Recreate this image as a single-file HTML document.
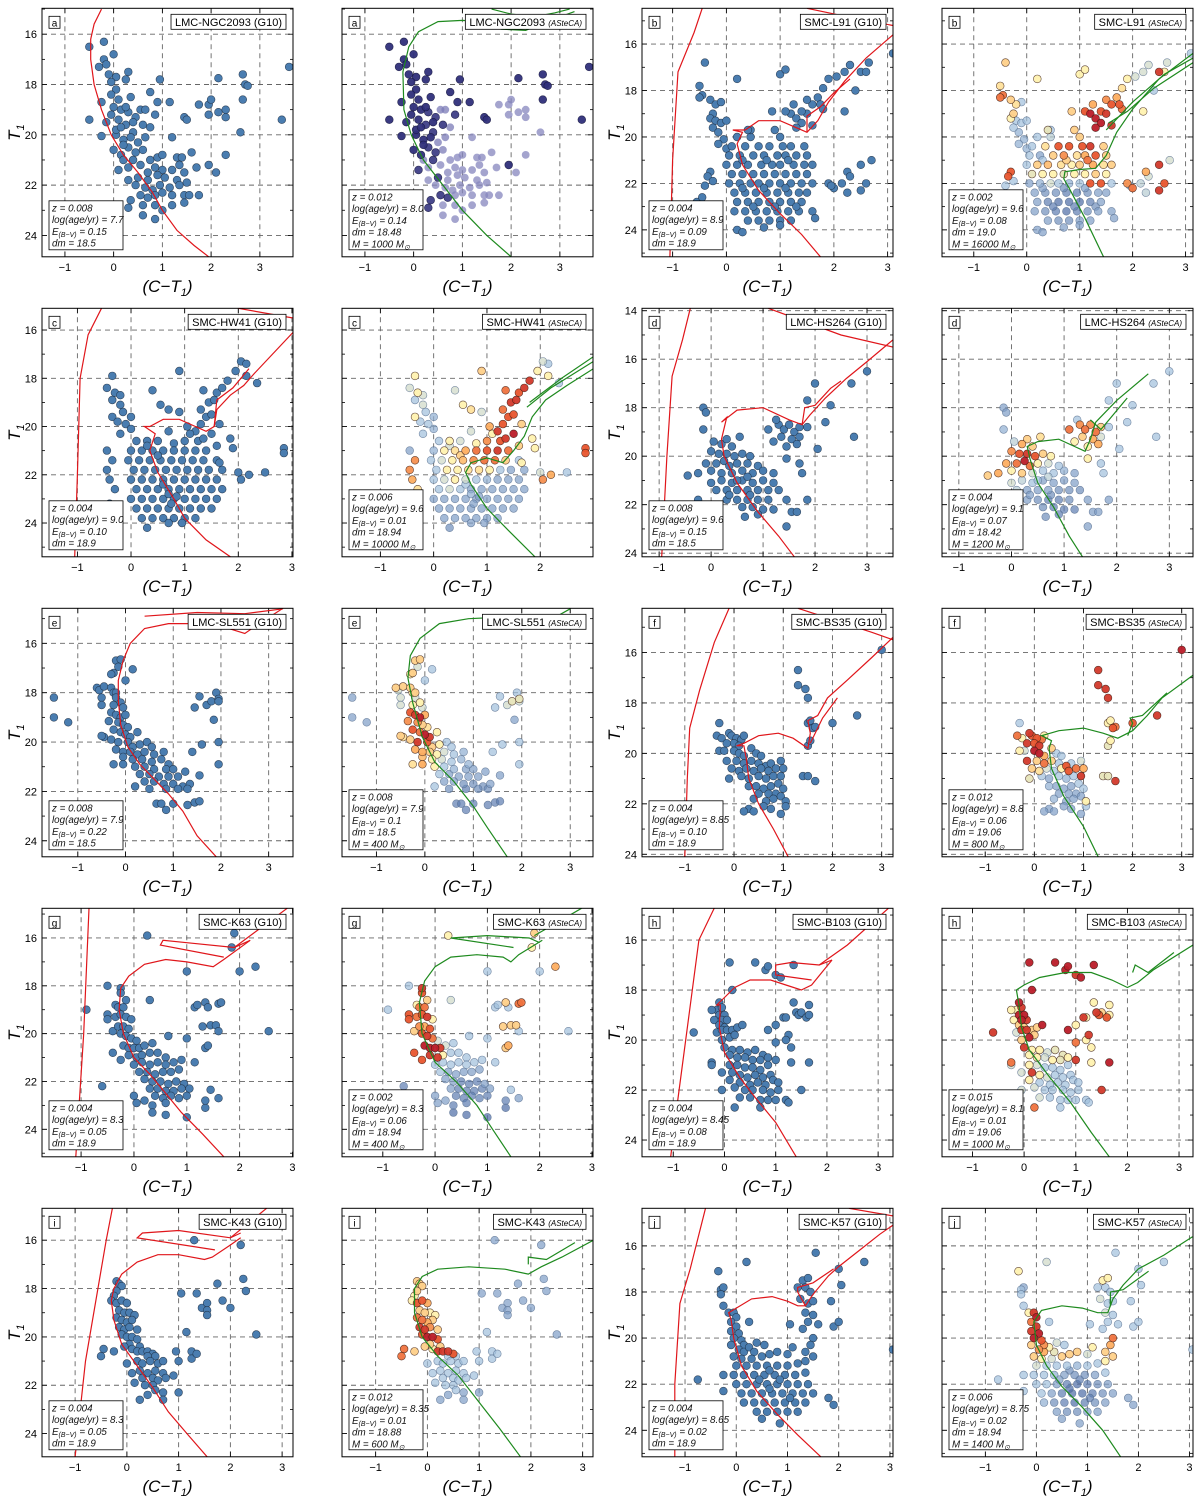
<!DOCTYPE html>
<html><head><meta charset="utf-8">
<style>
html,body{margin:0;padding:0;background:#fff;}
svg{display:block;}
text{font-family:"Liberation Sans",sans-serif;}
</style></head>
<body>
<svg id="fig" width="1200" height="1499" viewBox="0 0 1200 1499" xmlns="http://www.w3.org/2000/svg"></svg>
<script>
// ---------- data: stars [colour C-T1, magnitude T1, membership probability] ----------
const starsNGC2093=[[-0.5,16.5,.9],[-0.2,16.3,.9],[0,16.8,.9],[-0.2,17,.9],[-0.15,17.2,.9],[-0.3,17.3,.9],[-0.1,17.6,.9],[0.05,17.7,.9],[-0.05,17.9,.9],[0.3,17.5,.9],[0.25,17.8,.9],[0.95,17.8,.9],[0.75,18.3,.9],[0.05,18.2,.9],[-0.05,18.4,.9],[0.1,18.6,.9],[0.35,18.5,.9],[-0.25,18.7,.9],[0,18.9,.9],[0.15,19,.9],[0.3,19.1,.8],[0.55,19,.4],[0.65,19,.4],[0.85,19.2,.8],[0.9,18.7,.9],[1.15,18.7,.9],[-0.5,19.4,.9],[-0.15,19.5,.9],[0.1,19.4,.9],[0.25,19.6,.8],[0.45,19.3,.8],[0.6,19.6,.8],[0.75,19.7,.4],[1.45,19.3,.9],[1.5,19.4,.9],[1.75,18.8,.3],[1.95,18.8,.3],[2.0,18.6,.3],[1.95,19.2,.3],[2.15,19.1,.3],[2.3,19.0,.3],[2.3,19.3,.3],[2.15,17.75,.9],[2.65,17.6,.9],[2.7,18.0,.9],[2.75,18.05,.9],[2.65,18.6,.9],[2.6,19.9,.3],[3.45,19.4,.9],[3.6,17.3,.9],[-0.25,20.05,.9],[0.05,20.0,.9],[0.2,20.2,.9],[0.4,19.9,.8],[0.5,20.3,.4],[0.65,20.1,.4],[1.2,20.1,.3],[0,20.6,.9],[0.15,20.8,.9],[0.3,20.5,.8],[0.45,20.7,.8],[0.6,20.6,.4],[0.4,21.0,.8],[0.2,21.0,.4],[0.75,21.0,.3],[0.9,20.9,.3],[1.0,20.8,.3],[1.3,20.9,.3],[1.4,20.9,.3],[1.6,20.7,.3],[0.1,21.4,.8],[0.3,21.3,.3],[0.55,21.2,.3],[0.7,21.5,.3],[0.85,21.3,.3],[1.0,21.4,.3],[1.2,21.4,.3],[1.35,21.2,.3],[1.45,21.5,.3],[1.7,21.3,.3],[1.95,21.2,.9],[2.1,21.5,.3],[2.3,20.8,.3],[0.3,21.8,.3],[0.5,21.7,.8],[0.7,21.8,.3],[0.9,21.6,.3],[1.05,21.7,.3],[1.3,21.8,.3],[1.5,21.9,.3],[0.45,22.0,.3],[0.65,22.1,.3],[0.8,22.2,.3],[0.95,22.0,.3],[1.15,22.1,.3],[1.35,22.0,.3],[0.55,22.4,.8],[0.7,22.5,.8],[0.85,22.4,.3],[1.0,22.3,.3],[1.2,22.4,.3],[1.45,22.4,.3],[1.55,22.4,.3],[1.75,22.4,.3],[0.35,22.6,.8],[0.6,22.8,.3],[0.85,22.8,.3],[1.2,22.8,.3],[1.45,22.7,.3],[0.6,23.2,.3],[0.85,23.35,.3],[1.0,23.0,.3],[0.3,22.9,.8],[0.2,20.4,.9],[0.35,20.1,.9],[-0.05,19.2,.9],[0.05,19.8,.9],[0.15,19.7,.9],[0.25,18.9,.9],[0.4,19.5,.9]];
const starsL91=[[-0.4,16.8,.6],[-0.5,17.8,.55],[-0.45,18.2,.8],[-0.5,18.3,.8],[-0.3,18.4,.6],[-0.2,18.6,.55],[-0.1,18.5,.3],[-0.25,19.0,.6],[-0.3,19.2,.5],[-0.2,19.3,.3],[-0.1,19.4,.3],[-0.25,19.6,.3],[-0.15,19.8,.25],[0.0,19.3,.3],[-0.05,20.1,.25],[-0.15,20.3,.25],[0,20.5,.25],[-0.3,21.5,.85],[-0.35,21.7,.85],[-0.4,22.1,.3],[-0.55,22.8,.2],[-0.45,22.6,.2],[-0.25,21.9,.3],
[0.1,20.4,.3],[0.35,20.4,.55],[0.6,20.4,.85],[0.8,20.4,.85],[1.05,20.4,.85],[1.2,20.4,.9],[1.45,20.4,.6],
[0.05,20.8,.3],[0.25,20.8,.2],[0.5,20.8,.6],[0.7,20.8,.75],[0.95,20.8,.55],[1.1,20.8,.7],[1.3,20.8,.85],[1.5,20.8,.6],
[0.0,21.2,.3],[0.2,21.2,.6],[0.4,21.2,.65],[0.65,21.2,.55],[0.85,21.2,.5],[1.0,21.2,.6],[1.25,21.2,.7],[1.45,21.2,.55],[1.6,21.2,.6],
[0.1,21.6,.45],[0.3,21.6,.5],[0.5,21.6,.5],[0.7,21.6,.45],[0.9,21.6,.5],[1.1,21.6,.5],[1.3,21.6,.6],[1.5,21.6,.5],
[0.05,22.0,.2],[0.25,22.0,.25],[0.45,22.0,.4],[0.6,22.0,.3],[0.8,22.0,.25],[1.0,22.0,.3],[1.2,22.0,.85],[1.4,22.0,.85],[1.6,22.0,.3],
[0.15,22.4,.2],[0.35,22.4,.15],[0.55,22.4,.15],[0.75,22.4,.1],[0.95,22.4,.1],[1.15,22.4,.15],[1.35,22.4,.2],[1.5,22.4,.2],
[0.2,22.8,.2],[0.4,22.8,.1],[0.6,22.8,.05],[0.8,22.8,.05],[1.0,22.8,.05],[1.2,22.8,.1],[1.4,22.8,.2],
[0.15,23.2,.2],[0.35,23.2,.15],[0.55,23.2,.1],[0.75,23.2,.05],[0.95,23.2,.1],[1.15,23.2,.15],[1.35,23.2,.2],[1.6,23.2,.2],
[0.4,23.6,.2],[0.6,23.6,.15],[0.8,23.6,.15],[1.0,23.6,.2],[1.2,23.6,.2],
[0.2,24.0,.2],[0.3,24.1,.2],[0.7,23.9,.2],[1.0,23.8,.2],
[0.3,21.0,.3],[0.75,21.0,.6],[1.15,21.0,.8],[0.3,22.2,.2],[0.7,22.2,.15],[1.1,22.2,.2],[0.5,23.0,.1],[0.9,23.0,.1],[1.3,23.0,.15],[0.2,20.0,.3],[0.45,20.0,.35],[1.0,20.0,.6],[0.45,19.7,.3],[0.9,19.7,.6],
[1.2,19.0,.95],[1.3,19.2,.95],[1.4,19.4,.95],[1.5,19.0,.9],[1.6,19.5,.9],[1.3,19.6,.95],[1.4,18.9,.85],[1.6,18.6,.85],[1.7,18.3,.7],[1.5,18.4,.75],[1.75,18.6,.85],[1.8,17.9,.55],[1.9,17.5,.5],[2.05,17.4,.4],[2.2,17.2,.4],[2.3,16.9,.4],[2.5,17.2,.9],[2.6,17.2,.5],[2.65,16.8,.4],[1.8,18.8,.8],[1.25,18.6,.7],[1.1,18.9,.85],[0.85,18.9,.6],[0.4,19.7,.45],[1.0,17.3,.5],[1.1,17.1,.5],[0.2,17.5,.5],[2.4,18.0,.3],[3.1,16.4,.3],[2.2,18.9,.5],[2.25,21.5,.7],[2.5,21.2,.9],[2.7,21.0,.4],[1.9,22.0,.75],[2.0,22.2,.8],[2.25,22.4,.35],[2.5,22.3,.9],[2.6,22.0,.85],[2.3,21.7,.4],[2.15,22.0,.35],[1.65,23.5,.2],[1.95,22.1,.3]];
const starsHW41=[[-0.35,17.9,.5],[-0.45,18.4,.4],[-0.3,18.6,.5],[-0.2,18.7,.4],[-0.35,18.9,.3],[-0.2,19.1,.4],[-0.15,19.4,.3],[-0.35,19.6,.5],[-0.25,19.8,.3],[-0.1,19.9,.3],[0,19.6,.25],[0.0,20.1,.25],[-0.2,20.3,.3],[-0.45,21.0,.2],[-0.35,21.4,.75],[-0.45,21.8,.75],[-0.4,22.2,.7],[-0.3,22.6,.55],[-0.4,23.2,.5],[0.55,19.1,.5],[0.4,18.5,.4],[0.9,19.4,.4],[0.7,19.3,.55],[0.9,17.7,.6],
[0.1,20.6,.3],[0.3,20.6,.5],[0.5,20.6,.4],[0.8,20.7,.5],[1.0,20.6,.75],[1.25,20.6,.85],
[0.0,21.0,.25],[0.2,21.0,.5],[0.4,21.0,.55],[0.6,21.0,.7],[0.8,21.0,.8],[1.0,21.0,.85],[1.2,21.0,.9],[1.4,21.0,.8],
[-0.05,21.4,.3],[0.15,21.4,.4],[0.35,21.4,.5],[0.55,21.4,.65],[0.75,21.4,.75],[0.95,21.4,.8],[1.15,21.4,.8],[1.35,21.4,.6],[1.6,21.4,.3],
[0.05,21.8,.3],[0.25,21.8,.5],[0.45,21.8,.5],[0.65,21.8,.55],[0.85,21.8,.55],[1.05,21.8,.5],[1.25,21.8,.3],[1.45,21.8,.2],[1.7,21.8,.2],
[0.0,22.2,.3],[0.2,22.2,.4],[0.4,22.2,.5],[0.6,22.2,.4],[0.8,22.2,.3],[1.0,22.2,.25],[1.2,22.2,.2],[1.4,22.2,.2],[1.6,22.2,.2],
[0.1,22.6,.3],[0.3,22.6,.4],[0.5,22.6,.3],[0.7,22.6,.2],[0.9,22.6,.2],[1.1,22.6,.2],[1.3,22.6,.2],[1.5,22.6,.2],[1.7,22.6,.2],
[0.0,23.0,.2],[0.2,23.0,.2],[0.4,23.0,.2],[0.6,23.0,.2],[0.8,23.0,.2],[1.0,23.0,.2],[1.2,23.0,.2],[1.4,23.0,.2],[1.6,23.0,.2],
[0.1,23.4,.2],[0.3,23.4,.2],[0.5,23.4,.2],[0.7,23.4,.2],[0.9,23.4,.2],[1.1,23.4,.2],[1.3,23.4,.2],[1.5,23.4,.2],
[0.2,23.8,.2],[0.4,23.8,.2],[0.6,23.8,.2],[0.8,23.8,.2],[1.0,23.8,.2],[1.2,23.8,.2],
[0.3,24.2,.15],[0.7,24.0,.2],[0.95,24.0,.2],
[0.6,22.4,.3],[0.7,22.8,.25],[0.85,22.9,.2],[0.75,23.2,.2],[0.5,21.2,.6],[0.3,20.8,.4],
[1.2,20.2,.9],[1.3,19.9,.85],[1.35,20.5,.9],[1.5,20.3,.95],[1.4,19.6,.85],[1.3,19.3,.8],[1.5,19.5,.85],[1.45,19.0,.9],[1.55,18.9,.9],[1.6,18.6,.85],[1.35,18.5,.8],[1.7,18.4,.9],[1.8,18.1,.9],[1.95,17.7,.5],[2.05,17.3,.4],[2.15,17.4,.3],[2.15,17.9,.5],[2.35,18.2,.3],[1.65,19.9,.6],[1.85,20.5,.5],[1.9,20.9,.5],[1.65,21.5,.5],[2.0,21.9,.4],[2.2,22.0,.7],[2.5,21.9,.3],[2.05,22.2,.75],[2.85,20.9,.85],[2.85,21.1,.85],[1.1,20.3,.5],[0.7,20.2,.4],[1.6,20.8,.6],[1.05,20.0,.7]];
const starsHS264=[[-0.15,18.0,.2],[-0.1,18.2,.2],[-0.15,18.9,.25],[0.05,19.4,.35],[0.2,19.5,.7],[0.3,19.3,.6],[0.4,19.6,.6],[0.55,19.2,.55],[0.0,19.8,.75],[0.15,19.9,.85],[0.3,19.9,.9],[0.45,20.0,.85],[0.6,19.9,.6],[0.75,20.0,.5],[-0.1,20.3,.7],[0.1,20.3,.8],[0.25,20.2,.95],[0.35,20.4,.8],[0.5,20.3,.5],[0.7,20.3,.4],[0.9,20.4,.3],[-0.45,20.8,.6],[-0.25,20.7,.7],[0.0,20.6,.5],[0.2,20.7,.6],[0.4,20.7,.4],[0.6,20.6,.3],[0.8,20.7,.3],[1.0,20.6,.25],[1.2,20.7,.2],[0.0,21.1,.4],[0.2,21.0,.35],[0.4,21.1,.3],[0.6,21.0,.2],[0.8,21.1,.2],[1.0,21.0,.2],[1.2,21.1,.2],[0.1,21.4,.35],[0.3,21.4,.2],[0.5,21.4,.2],[0.7,21.4,.2],[0.9,21.4,.15],[1.1,21.4,.15],[1.3,21.4,.15],[0.3,21.8,.2],[0.5,21.8,.15],[0.7,21.8,.1],[0.9,21.8,.1],[1.1,21.8,.15],[0.6,22.1,.15],[0.8,22.1,.1],[1.0,22.2,.1],[1.2,22.2,.1],[0.9,22.4,.1],[1.45,21.8,.2],[1.55,22.3,.2],[1.65,22.3,.2],[1.45,22.9,.2],[1.85,21.8,.2],[-0.25,21.8,.4],[-0.1,22.5,.3],[0.65,22.5,.15],[0.5,21.0,.3],[0.7,20.85,.35],[0.35,21.6,.2],[0.75,21.6,.15],
[1.3,18.7,.75],[1.4,18.9,.8],[1.5,18.7,.75],[1.6,19.0,.8],[1.7,18.8,.6],[1.55,19.3,.7],[1.45,19.6,.5],[1.65,19.5,.7],[1.35,19.2,.6],[1.7,19.2,.4],[1.45,20.1,.5],[1.7,20.3,.3],[1.75,20.7,.3],[1.2,19.4,.5],[1.1,18.9,.8],[1.25,18.5,.3],[1.85,18.8,.3],[2.05,19.7,.3],[2.2,18.6,.3],[1.85,17.7,.3],[2.0,17.0,.3],[2.3,17.9,.3],[2.7,17.0,.3],[3.0,16.5,.3],[2.75,19.2,.3]];
const starsSL551=[[-0.2,16.7,.6],[-0.1,16.65,.6],[-0.15,16.95,.4],[0.15,17.05,.3],[-0.25,17.2,.6],[-0.3,17.25,.5],[0.0,17.5,.3],[-0.6,17.8,.6],[-0.55,17.9,.4],[-0.45,17.75,.6],[-0.3,17.8,.6],[-0.25,18.0,.5],[-0.2,18.0,.6],[-0.5,18.2,.4],[-0.2,18.2,.4],[-0.1,18.4,.5],[-0.5,18.5,.4],[-0.25,18.5,.5],[-0.05,18.6,.4],[-0.3,18.8,.85],[-0.2,18.9,.9],[-0.1,19.0,.95],[0.0,18.9,.7],[-0.35,19.15,.75],[-0.15,19.2,.75],[-0.05,19.3,.6],[0.05,19.4,.55],[-0.25,19.5,.85],[-0.1,19.6,.8],[0.0,19.7,.95],[0.1,19.8,.9],[0.25,19.6,.5],[-0.45,19.8,.55],[-0.3,19.9,.6],[-0.15,20.0,.9],[0.05,20.0,.85],[0.15,20.2,.6],[0.3,20.1,.5],[0.45,20.0,.3],[0.55,20.2,.3],[-0.2,20.3,.7],[-0.05,20.4,.7],[0.1,20.4,.6],[0.25,20.5,.5],[0.4,20.4,.4],[0.6,20.5,.3],[0.8,20.4,.25],[-0.05,20.6,.65],[0.15,20.7,.5],[0.35,20.7,.4],[0.55,20.8,.3],[0.75,20.7,.25],[0.9,20.9,.25],[-0.25,20.9,.55],[-0.05,20.9,.7],[0.2,21.0,.5],[0.4,21.0,.3],[0.6,21.1,.25],[0.85,21.1,.2],[1.0,21.1,.2],[0.3,21.3,.3],[0.5,21.3,.2],[0.7,21.4,.2],[0.9,21.4,.2],[1.1,21.4,.2],[1.25,21.2,.2],[0.4,21.6,.2],[0.6,21.6,.2],[0.8,21.7,.15],[1.0,21.7,.15],[1.2,21.8,.15],[1.35,21.7,.2],[0.2,21.8,.3],[0.5,21.9,.15],[0.85,21.9,.1],[1.1,21.9,.15],[1.3,21.9,.15],[0.65,22.5,.1],[0.75,22.5,.1],[1.0,22.5,.1],[0.85,22.75,.1],[1.3,22.55,.1],[1.45,22.45,.1],[1.55,22.4,.1],[1.55,21.35,.2],[1.4,20.4,.3],[1.6,20.1,.3],[1.45,18.6,.3],[1.55,18.15,.3],[1.7,18.5,.4],[1.8,18.35,.45],[1.9,18.0,.3],[1.95,18.25,.45],[1.95,18.35,.4],[1.85,19.1,.2],[1.95,20.0,.3],[1.95,20.9,.3],[-1.5,18.2,.2],[-1.5,19.0,.2],[-1.2,19.2,.2],[-0.5,19.75,.6]];
const starsBS35=[[-0.3,18.8,.3],[-0.35,19.3,.8],[-0.25,19.4,.5],[-0.1,19.2,.9],[-0.05,19.3,.85],[0.05,19.4,.85],[0.15,19.45,.8],[0.2,19.3,.5],[0.0,19.6,.85],[-0.15,19.6,.9],[0.1,19.7,.9],[-0.3,19.9,.5],[-0.2,19.9,.4],[0.0,19.9,.95],[0.1,20.0,.95],[0.2,20.1,.7],[0.35,19.8,.6],[0.45,20.0,.3],[0.55,20.1,.3],[-0.15,20.3,.9],[0.05,20.3,.6],[0.2,20.4,.8],[0.35,20.3,.6],[0.5,20.4,.3],[0.65,20.5,.85],[0.75,20.4,.3],[0.95,20.3,.4],[-0.05,20.6,.6],[0.1,20.7,.55],[0.25,20.6,.4],[0.4,20.7,.3],[0.55,20.6,.5],[0.7,20.7,.85],[0.85,20.6,.8],[1.0,20.6,.7],[-0.1,21.0,.45],[0.15,20.9,.3],[0.3,21.0,.2],[0.5,20.9,.3],[0.65,21.0,.25],[0.8,20.9,.3],[0.95,20.9,.9],[0.3,21.3,.25],[0.45,21.3,.2],[0.6,21.4,.2],[0.75,21.3,.2],[0.9,21.2,.3],[1.0,21.4,.3],[0.5,21.6,.2],[0.7,21.6,.2],[0.85,21.6,.2],[0.95,21.7,.2],[0.4,21.8,.25],[0.65,21.9,.2],[0.8,21.8,.2],[1.05,21.9,.5],[1.05,22.1,.3],[0.3,22.2,.2],[0.2,22.3,.2],[0.4,22.3,.2],[0.6,22.1,.2],[0.75,22.2,.2],[0.95,22.4,.2],[1.3,16.7,.9],[1.3,17.3,.9],[1.45,17.45,.9],[1.5,17.8,.9],[1.5,18.8,.5],[1.55,18.7,.5],[1.6,19.0,.85],[1.65,18.95,.8],[1.5,19.7,.45],[1.55,19.5,.5],[2.0,18.8,.85],[2.5,18.5,.9],[3.0,15.9,.95],[1.4,20.9,.45],[1.5,20.9,.45],[1.65,21.1,.9]];
const starsK63=[[-0.5,18.0,.3],[-0.25,18.1,.9],[-0.25,18.3,.85],[-0.9,19.0,.3],[-0.35,18.8,.5],[-0.3,18.9,.8],[-0.2,18.9,.8],[-0.15,18.6,.6],[-0.5,19.2,.85],[-0.5,19.4,.85],[-0.35,19.3,.8],[-0.25,19.2,.85],[-0.15,19.3,.9],[-0.05,19.4,.5],[-0.4,19.9,.6],[-0.3,19.7,.75],[-0.2,19.7,.7],[-0.1,19.8,.85],[-0.25,20.0,.85],[-0.15,20.1,.9],[-0.05,20.2,.8],[0.05,20.3,.4],[-0.4,20.8,.85],[-0.2,20.5,.95],[-0.1,20.6,.95],[0.0,20.6,.95],[0.1,20.6,.9],[0.2,20.5,.4],[0.35,20.4,.3],[-0.25,21.1,.85],[-0.1,20.9,.9],[0.05,21.0,.9],[0.15,20.9,.5],[0.3,20.8,.3],[0.45,20.8,.3],[0.6,21.0,.3],[0.0,21.3,.3],[0.15,21.2,.3],[0.3,21.3,.3],[0.45,21.2,.3],[0.6,21.3,.3],[0.75,21.2,.3],[0.9,21.1,.3],[0.1,21.6,.3],[0.25,21.6,.2],[0.4,21.7,.2],[0.55,21.6,.2],[0.7,21.6,.2],[0.85,21.5,.2],[0.2,21.9,.2],[0.35,22.0,.2],[0.5,22.0,.1],[0.65,22.1,.1],[0.8,22.0,.1],[0.95,22.1,.2],[0.3,22.3,.2],[0.45,22.3,.1],[0.6,22.4,.1],[0.75,22.4,.1],[0.9,22.3,.1],[1.05,22.3,.2],[0.4,22.6,.1],[0.55,22.7,.1],[0.7,22.6,.1],[0.85,22.7,.1],[1.0,22.6,.1],[0.0,22.6,.2],[0.05,22.9,.2],[0.2,22.8,.2],[0.35,23.0,.1],[0.6,22.9,.1],[0.35,23.3,.05],[0.6,23.4,.05],[1.0,23.5,.05],[1.35,23.1,.05],[1.35,22.8,.1],[1.45,22.35,.3],[1.6,22.7,.2],[1.15,21.2,.3],[1.0,20.2,.3],[0.65,20.1,.3],[0.3,18.6,.4],[0.25,15.9,.5],[1.9,15.8,.6],[1.85,16.4,.5],[1.0,17.4,.3],[2.0,17.4,.3],[2.3,17.2,.7],[1.15,18.9,.3],[1.2,18.8,.3],[1.35,18.7,.6],[1.4,18.9,.3],[1.6,18.75,.8],[1.65,18.7,.8],[1.3,19.7,.6],[1.45,19.65,.6],[1.55,19.65,.6],[1.6,19.9,.3],[1.35,20.6,.6],[1.4,20.5,.7],[2.55,19.9,.3],[-0.6,22.2,.1]];
const starsB103=[[-0.1,18.5,.95],[-0.15,18.8,.5],[-0.25,18.8,.5],[-0.05,18.7,.9],[-0.1,19.0,.95],[0.0,19.0,.95],[-0.05,19.2,.95],[0.05,19.2,.9],[-0.2,19.2,.5],[-0.1,19.4,.6],[0.0,19.5,.6],[-0.6,19.7,.9],[-0.15,19.7,.4],[-0.05,19.6,.9],[0.05,19.6,.9],[0.15,19.6,.6],[0.25,19.5,.6],[0.35,19.4,.95],[0.1,19.9,.95],[0.2,19.8,.6],[-0.05,20.0,.6],[0.0,20.3,.9],[0.15,20.4,.5],[0.3,20.4,.5],[0.45,20.5,.4],[0.6,20.4,.45],[0.75,20.6,.45],[0.1,20.6,.5],[0.25,20.7,.5],[0.4,20.7,.4],[0.55,20.8,.5],[0.7,20.8,.45],[0.85,20.7,.5],[-0.25,20.9,.8],[-0.25,21.0,.4],[0.1,21.0,.5],[0.25,21.0,.4],[0.4,21.1,.3],[0.55,21.1,.3],[0.7,21.2,.3],[0.85,21.0,.3],[-0.05,21.3,.4],[0.15,21.3,.9],[0.3,21.4,.5],[0.45,21.5,.4],[0.6,21.4,.3],[0.75,21.5,.3],[0.9,21.4,.3],[0.1,21.6,.5],[0.3,21.7,.3],[0.5,21.8,.3],[0.65,21.7,.3],[0.8,21.8,.3],[0.95,21.6,.3],[1.05,21.7,.3],[0.2,21.9,.4],[0.4,22.0,.3],[0.55,22.0,.3],[0.75,22.0,.3],[0.9,22.1,.3],[1.05,22.0,.3],[-0.05,22.0,.4],[0.3,22.3,.4],[0.5,22.3,.3],[0.7,22.4,.3],[0.85,22.4,.3],[1.0,22.4,.3],[1.2,22.4,.3],[1.25,22.5,.3],[0.2,22.7,.8],[0.7,22.7,.3],[0.15,18.0,.95],[0.1,16.9,.95],[0.6,16.9,.95],[0.8,17.2,.95],[0.85,17.05,.95],[1.0,17.4,.9],[1.1,17.5,.95],[1.35,17.0,.95],[0.85,19.6,.95],[1.0,19.4,.5],[1.0,20.1,.8],[1.0,20.8,.9],[1.15,19.1,.9],[1.2,19.1,.5],[1.25,19.8,.9],[1.3,20.3,.5],[1.35,18.5,.5],[1.4,18.9,.9],[1.45,19.0,.85],[1.5,18.9,.6],[1.6,19.1,.85],[1.65,18.6,.5],[1.65,19.0,.5],[1.3,20.9,.5],[1.65,20.9,.95],[1.5,22.0,.9],[1.2,20.0,.5]];
const starsK43=[[-0.2,17.7,.6],[-0.15,17.8,.6],[-0.1,17.9,.6],[-0.2,18.1,.6],[-0.25,18.3,.5],[-0.3,18.5,.5],[-0.2,18.6,.85],[-0.1,18.5,.85],[0.0,18.6,.7],[-0.15,18.9,.6],[-0.05,19.0,.6],[0.05,19.0,.5],[0.15,19.1,.5],[-0.2,19.2,.8],[-0.1,19.3,.8],[0.0,19.4,.7],[0.1,19.3,.6],[-0.15,19.6,.9],[-0.05,19.7,.9],[0.05,19.6,.75],[0.2,19.7,.6],[-0.1,19.9,.85],[0.0,20.0,.95],[0.1,20.0,.95],[0.2,20.1,.85],[0.05,20.3,.6],[-0.05,20.4,.6],[0.1,20.5,.5],[0.25,20.4,.6],[-0.45,20.5,.8],[-0.5,20.8,.8],[-0.25,20.6,.6],[0.2,20.6,.9],[0.3,20.6,.9],[0.4,20.6,.9],[0.5,20.7,.85],[0.4,20.8,.3],[0.55,20.8,.3],[0.0,21.1,.3],[0.2,21.0,.3],[0.3,21.1,.3],[0.45,21.0,.3],[0.6,21.1,.3],[0.7,21.0,.3],[0.1,21.5,.3],[0.25,21.4,.3],[0.4,21.5,.3],[0.55,21.4,.3],[0.7,21.5,.3],[0.3,21.7,.3],[0.5,21.7,.3],[0.6,21.8,.3],[0.75,21.7,.3],[0.15,21.9,.3],[0.35,22.0,.3],[0.5,22.0,.3],[0.55,22.2,.3],[0.7,22.3,.2],[0.4,22.4,.2],[0.25,22.6,.2],[0.7,22.6,.2],[0.9,21.6,.3],[1.0,22.3,.2],[0.95,20.6,.3],[1.0,21.0,.3],[1.25,20.6,.3],[1.25,20.9,.3],[1.35,20.7,.3],[1.15,19.8,.3],[1.05,18.2,.2],[1.35,18.2,.2],[1.45,18.8,.2],[1.55,18.6,.2],[1.55,18.9,.2],[1.55,19.1,.2],[1.75,17.8,.2],[1.85,18.5,.2],[2.0,18.8,.2],[2.25,17.6,.2],[2.3,18.1,.2],[1.3,16.0,.2],[2.2,16.2,.2],[2.5,19.9,.2]];
const starsK57=[[-0.3,17.9,.3],[-0.35,17.1,.5],[-0.25,17.8,.2],[-0.3,18.1,.3],[-0.25,18.6,.3],[0.2,16.7,.4],[-0.15,18.9,.5],[-0.05,18.9,.9],[0.0,19.1,.95],[-0.1,19.3,.8],[0.0,19.5,.9],[-0.1,19.7,.9],[0.05,19.8,.95],[-0.05,20.0,.95],[0.1,20.1,.85],[0.15,20.3,.75],[-0.1,20.3,.6],[0.05,20.5,.75],[0.15,20.6,.7],[0.25,20.4,.5],[0.35,20.6,.45],[-0.05,20.8,.6],[0.1,20.9,.5],[0.3,20.9,.4],[0.5,20.8,.6],[0.65,20.7,.6],[0.8,20.6,.6],[0.25,19.3,.3],[0.4,20.2,.4],[0.55,20.3,.3],
[0.0,21.2,.4],[0.2,21.2,.3],[0.4,21.2,.3],[0.6,21.2,.3],[0.8,21.2,.25],[1.0,21.2,.3],[1.2,21.1,.3],
[-0.05,21.6,.3],[0.15,21.6,.3],[0.35,21.6,.25],[0.55,21.6,.2],[0.75,21.6,.15],[0.95,21.6,.15],[1.15,21.6,.2],[1.35,21.5,.3],
[0.0,22.0,.3],[0.2,22.0,.3],[0.4,22.0,.2],[0.6,22.0,.1],[0.8,22.0,.05],[1.0,22.0,.1],[1.2,22.0,.15],[1.4,22.0,.2],
[0.1,22.4,.3],[0.3,22.4,.2],[0.5,22.4,.1],[0.7,22.4,.05],[0.9,22.4,.05],[1.1,22.4,.1],[1.3,22.4,.15],[1.5,22.4,.2],
[0.15,22.8,.25],[0.35,22.8,.15],[0.55,22.8,.1],[0.75,22.8,.05],[0.95,22.8,.1],[1.15,22.8,.15],[1.35,22.8,.2],
[0.4,23.2,.2],[0.6,23.2,.15],[0.8,23.2,.15],[1.0,23.2,.2],[1.2,23.2,.2],
[0.5,23.5,.2],[0.85,23.7,.2],[-0.25,22.3,.3],[-0.25,21.6,.3],[-0.75,21.8,.3],[0.65,21.4,.15],[0.45,21.8,.2],[0.85,21.8,.1],[0.65,22.2,.05],[1.05,22.6,.1],[1.8,22.6,.2],[1.9,22.9,.2],
[1.2,17.8,.3],[1.3,17.5,.5],[1.4,17.4,.5],[1.35,17.8,.3],[1.45,18.0,.3],[1.25,18.3,.4],[1.4,18.5,.3],[1.5,18.4,.3],[1.35,18.9,.4],[1.5,19.0,.3],[1.4,19.3,.3],[1.6,19.4,.3],[1.3,19.6,.3],[1.5,20.0,.8],[1.45,20.3,.7],[1.35,20.6,.6],[1.5,20.8,.6],[1.35,21.0,.5],[1.1,20.4,.5],[1.0,20.7,.4],[1.05,19.4,.3],[1.55,16.3,.3],[2.0,17.0,.3],[2.05,17.7,.3],[1.85,18.4,.3],[1.9,19.5,.3],[2.0,19.3,.3],[2.5,16.7,.3],[3.06,20.5,.3]];

// ---------- isochrones (G10 red, ASteCA green): lists of polylines in [C-T1, T1] ----------
const isoG10_NGC2093=[[[-0.25,15],[-0.4,15.6],[-0.47,16.2],[-0.47,17],[-0.4,18],[-0.25,19],[-0.05,20],[0.2,20.8],[0.5,21.5],[0.8,22.3],[1.0,23],[1.3,23.8],[1.65,24.4],[1.95,24.85]]];
const isoAst_NGC2093=[[[2.0,24.85],[1.5,24],[1.0,23],[0.6,22],[0.2,21],[-0.05,20],[-0.2,19],[-0.22,17.5],[-0.1,16.5],[0.1,15.9],[0.5,15.5],[1.0,15.45],[1.35,15.5],[1.8,15.8],[2.3,15.85],[2.6,15.6],[3.3,15.1]],[[1.6,15],[2.0,15.2],[2.5,15.3],[2.9,15.15],[3.2,15]]];
const isoG10_L91=[[[-1.05,25.16],[-1.0,21],[-0.9,17.2],[-0.6,15.5],[-0.45,14.46]],[[1.75,25.16],[1.4,24.2],[1.0,23.3],[0.6,22.3],[0.3,21.2],[0.2,20.3],[0.3,19.8],[0.12,19.7],[0.35,19.7],[0.6,19.3],[1.0,19.3],[1.3,19.6],[1.5,19.8],[1.7,19.3],[1.9,18.5],[2.2,17.6],[2.6,16.6],[3.1,15.6]],[[1.5,19.8],[1.5,19.1],[1.75,18.7],[2.0,18.1],[2.3,17.5]],[[1.5,14.46],[2.2,14.8],[3.1,15.2]]];
const isoAst_L91=[[[1.45,25.16],[1.1,23.5],[0.8,22.2],[0.7,21.8],[0.72,21.5],[1.0,21.4],[1.3,21.35],[1.5,20.8],[1.7,19.8],[2.0,18.8],[2.5,17.5],[3.14,16.4]],[[1.55,19.4],[1.9,18.9],[2.4,17.9],[3.14,16.8]],[[1.5,19.7],[2.0,18.5],[2.6,17.3],[3.14,16.6]]];
const isoG10_HW41=[[[-1.05,25.4],[-1.0,22],[-0.95,18],[-0.8,16.2],[-0.55,15.1]],[[1.85,25.4],[1.4,24.7],[1.0,23.8],[0.8,23],[0.5,21.9],[0.35,21.0],[0.45,20.3],[0.25,20.0],[0.35,20.0],[0.6,19.7],[0.9,19.7],[1.2,20.0],[1.4,20.2],[1.55,20.0],[1.6,19.3],[1.85,18.7],[2.1,18.3],[2.3,17.8],[3.02,16.1]],[[1.55,20.0],[1.6,18.9],[1.9,18.4],[2.2,17.6]],[[2.0,15.1],[3.02,15.5]]];
const isoAst_HW41=[[[1.9,25.4],[1.4,24.3],[1.0,23.4],[0.7,22.4],[0.6,21.9],[0.7,21.5],[1.0,21.3],[1.3,21.5],[1.5,21.0],[1.7,20.4],[1.85,19.6],[2.1,18.9],[2.5,18.3],[3.0,17.6]],[[1.75,19.2],[2.2,18.4],[3.0,17.3]],[[1.8,19.0],[2.4,18.0],[3.0,17.1]]];
const isoG10_HS264=[[[-0.95,24.15],[-0.85,20],[-0.75,16.7],[-0.55,15.2],[-0.4,13.9]],[[1.6,24.15],[1.3,23.3],[0.9,22.3],[0.5,21.1],[0.25,20.0],[0.2,19.3],[0.3,18.4],[0.2,18.6],[0.5,18.1],[1.0,18.0],[1.5,18.5],[1.75,18.7],[1.9,18.3],[2.2,17.6],[2.6,16.8],[3.0,16.1],[3.5,15.2]],[[1.75,18.7],[1.8,18.0],[2.0,17.9],[2.3,17.2],[2.5,16.9]],[[1.1,13.9],[2.5,15.0],[3.5,15.5]]];
const isoAst_HS264=[[[1.35,24.15],[1.1,23.3],[0.8,22.1],[0.5,21.1],[0.35,20.1],[0.3,19.6],[0.5,19.4],[0.9,19.3],[1.2,19.6],[1.4,19.8],[1.5,19.3],[1.6,18.6],[2.0,17.7],[2.6,16.6]],[[1.5,18.5],[1.7,18.9],[2.2,17.6]]];
const isoG10_SL551=[[[1.9,24.65],[1.5,23.8],[1.2,22.8],[0.9,22.1],[0.6,21.5],[0.3,20.9],[0.05,20.2],[-0.1,19.3],[-0.15,18.3],[-0.15,17.5],[-0.05,16.7],[0.1,16.0],[0.4,15.4],[0.9,15.2],[1.5,15.2],[2.0,15.3],[2.5,15.6],[2.8,15.2],[3.3,14.58]],[[0.4,14.9],[1.5,14.75],[2.5,14.8],[3.3,14.6]]];
const isoAst_SL551=[[[1.7,24.65],[1.3,23.5],[1.0,22.6],[0.6,21.6],[0.2,20.8],[-0.05,19.8],[-0.25,18.4],[-0.35,17.4],[-0.3,16.5],[-0.1,15.8],[0.3,15.2],[0.9,15.0],[1.5,14.95],[2.0,14.95],[2.5,15.15],[3.0,14.6]]];
const isoG10_BS35=[[[-1.0,24.1],[-0.95,21],[-0.9,19],[-0.7,17.5],[-0.4,15.6],[-0.1,14.25]],[[1.1,24.1],[0.8,23],[0.5,22],[0.3,21.0],[0.25,20.2],[0.2,19.7],[0.05,19.7],[0.2,19.6],[0.5,19.3],[0.9,19.2],[1.2,19.4],[1.5,19.8],[1.55,19.2],[1.5,18.7],[1.7,18.5],[1.9,17.8],[2.3,17.1],[2.8,16.2],[3.23,15.4]],[[1.55,19.6],[1.8,18.6],[2.1,17.8]],[[1.3,14.25],[2.8,15.2],[3.23,15.5]]];
const isoAst_BS35=[[[1.3,24.1],[1.0,22.9],[0.6,21.7],[0.35,20.6],[0.3,19.8],[0.35,19.5],[0.15,19.3],[0.5,19.1],[1.0,19.0],[1.4,19.2],[1.7,19.4],[2.0,19.1],[2.3,18.5],[2.6,17.8],[3.23,16.9]],[[1.9,19.3],[2.0,18.8],[1.95,18.6],[2.2,18.5],[2.7,17.6]]];
const isoG10_K63=[[[-1.1,25.15],[-0.95,20],[-0.85,14.76]],[[1.7,25.15],[1.3,24.2],[0.9,23.3],[0.6,22.5],[0.3,21.7],[0.0,21.0],[-0.2,20.0],[-0.28,19.0],[-0.25,18.1],[-0.1,17.6],[0.2,17.1],[0.6,16.9],[1.0,17.0],[1.5,17.2],[1.7,16.9],[2.2,16.1]],[[1.7,16.8],[0.5,16.3],[0.55,16.1],[1.0,16.2],[1.9,16.4],[2.2,16.1]],[[1.9,16.4],[2.9,14.76]]];
const isoAst_K63=[[[1.45,25.15],[1.1,24],[0.8,23],[0.4,22.0],[0.0,21.2],[-0.25,20],[-0.3,18.7],[-0.2,17.8],[0,17.2],[0.3,16.8],[0.8,16.7],[1.3,16.8],[1.45,17.0],[1.6,16.7],[2.05,16.1]],[[1.5,16.4],[0.3,16.0],[1.0,15.9],[1.8,16.0],[2.0,16.2]],[[1.9,15.9],[2.8,14.76]]];
const isoG10_B103=[[[-1.05,24.67],[-0.95,23],[-0.5,16],[-0.2,14.73]],[[1.4,24.67],[1.0,23.3],[0.6,22.3],[0.3,21.5],[0.0,20.5],[-0.1,19.5],[-0.08,18.6],[-0.15,18.6],[0,18.3],[0.2,17.9],[0.5,17.6],[0.9,17.6],[1.2,17.8],[1.5,18.0],[1.7,17.8],[1.9,17.3],[2.1,16.8]],[[1.7,17.6],[1.0,17.4],[1.0,17.0],[1.3,16.9],[1.85,17.0],[2.1,16.8]],[[1.85,17.0],[2.4,16.2],[3.2,14.73]]];
const isoAst_B103=[[[1.65,24.67],[1.3,23.7],[0.9,22.5],[0.5,21.5],[0.1,20.4],[-0.05,19.5],[-0.1,18.6],[-0.15,18.0],[0,17.8],[0.3,17.5],[0.8,17.3],[1.3,17.3],[1.7,17.6],[2.0,17.9],[2.2,17.7],[2.5,17.2],[3.27,16.2]],[[2.1,17.3],[2.15,17.0],[2.4,17.3],[2.9,16.5]]];
const isoG10_K43=[[[-1.0,24.96],[-0.8,21],[-0.4,16],[-0.28,14.68]],[[1.55,24.96],[1.2,24.1],[0.8,23.1],[0.5,22.1],[0.2,21.2],[-0.1,20.3],[-0.25,19.3],[-0.3,18.5],[-0.25,18.0],[-0.1,17.4],[0.2,16.9],[0.6,16.6],[1.0,16.6],[1.5,16.8],[1.65,16.7],[2.0,16.2],[2.2,15.9]],[[1.7,16.4],[0.2,15.9],[0.3,15.7],[1.0,15.6],[2.0,15.9],[2.2,15.7]],[[2.0,15.9],[2.7,14.68]]];
const isoAst_K43=[[[1.8,24.96],[1.4,23.8],[1.0,22.7],[0.6,21.6],[0.2,20.8],[-0.1,20],[-0.25,19],[-0.25,18.0],[-0.1,17.5],[0.2,17.2],[0.8,17.1],[1.5,17.2],[1.95,17.4],[2.2,17.1],[2.6,16.7],[3.21,16.0]],[[1.95,17.0],[1.95,16.7],[2.3,16.8],[2.85,16.1]]];
const isoG10_K57=[[[-1.2,25.15],[-1.2,22],[-1.1,18.5],[-0.9,17],[-0.6,14.37]],[[1.65,25.15],[1.2,24.2],[0.8,23.3],[0.4,22.3],[0.1,21.2],[-0.05,20.0],[-0.1,19.2],[-0.15,18.9],[0,18.7],[0.3,18.3],[0.7,18.2],[1.0,18.4],[1.2,18.6],[1.35,18.6],[1.5,18.1],[1.8,17.3],[2.0,16.9],[2.4,16.2],[2.8,15.5],[3.06,15.1]],[[1.35,18.6],[1.2,18.0],[1.2,17.8],[1.5,17.6],[1.9,17.0]],[[2.2,14.37],[3.06,14.7]]];
const isoAst_K57=[[[1.65,25.15],[1.3,24],[0.9,23],[0.5,22.1],[0.2,21.2],[0,20.3],[-0.05,19.3],[0.1,18.8],[0.5,18.6],[0.9,18.7],[1.2,18.9],[1.4,18.9],[1.5,18.3],[1.7,17.7],[2.0,17.0],[2.5,16.4],[3.06,15.6]],[[1.45,18.6],[1.45,18.0],[1.7,17.9],[2.2,17.1]]];

// ---------- fitted parameters printed in the info boxes ----------
const names=["LMC-NGC2093","SMC-L91","SMC-HW41","LMC-HS264","LMC-SL551","SMC-BS35","SMC-K63","SMC-B103","SMC-K43","SMC-K57"];
const letters=["a","b","c","d","e","f","g","h","i","j"];
const g10Z=["0.008","0.004","0.004","0.008","0.008","0.004","0.004","0.004","0.004","0.004"];
const g10Age=["7.7","8.9","9.0","9.6","7.9","8.85","8.3","8.45","8.3","8.65"];
const g10E=["0.15","0.09","0.10","0.15","0.22","0.10","0.05","0.08","0.05","0.02"];
const g10Dm=["18.5","18.9","18.9","18.5","18.5","18.9","18.9","18.9","18.9","18.9"];
const astZ=["0.012","0.002","0.006","0.004","0.008","0.012","0.002","0.015","0.012","0.006"];
const astAge=["8.0","9.6","9.6","9.1","7.9","8.8","8.3","8.1","8.35","8.75"];
const astE=["0.14","0.08","0.01","0.07","0.1","0.06","0.06","0.01","0.01","0.02"];
const astDm=["18.48","19.0","18.94","18.42","18.5","19.06","18.94","19.06","18.88","18.94"];
const astM=["1000","16000","10000","1200","400","800","400","1000","600","1400"];

const starSets=[starsNGC2093,starsL91,starsHW41,starsHS264,starsSL551,starsBS35,starsK63,starsB103,starsK43,starsK57];
const isoG10=[isoG10_NGC2093,isoG10_L91,isoG10_HW41,isoG10_HS264,isoG10_SL551,isoG10_BS35,isoG10_K63,isoG10_B103,isoG10_K43,isoG10_K57];
const isoAst=[isoAst_NGC2093,isoAst_L91,isoAst_HW41,isoAst_HS264,isoAst_SL551,isoAst_BS35,isoAst_K63,isoAst_B103,isoAst_K43,isoAst_K57];

const ranges=[
 [[-1.47,3.68,14.97,24.85],[-1.47,3.68,14.97,24.85]],
 [[-1.57,3.1,14.46,25.16],[-1.6,3.14,14.46,25.16]],
 [[-1.66,3.02,15.1,25.4],[-1.72,2.99,15.1,25.4]],
 [[-1.33,3.5,13.9,24.15],[-1.32,3.45,13.9,24.15]],
 [[-1.75,3.51,14.58,24.65],[-1.71,3.47,14.58,24.65]],
 [[-1.87,3.23,14.25,24.1],[-1.88,3.23,14.25,24.1]],
 [[-1.74,3.01,14.76,25.15],[-1.78,3.02,14.76,25.15]],
 [[-1.61,3.29,14.73,24.67],[-1.59,3.27,14.73,24.67]],
 [[-1.64,3.21,14.68,24.96],[-1.65,3.2,14.68,24.96]],
 [[-1.84,3.06,14.37,25.15],[-1.85,3.07,14.37,25.15]]];

const NS="http://www.w3.org/2000/svg";
const svg=document.getElementById('fig');
function el(tag,attrs,parent){const e=document.createElementNS(NS,tag);for(const k in attrs)e.setAttribute(k,attrs[k]);(parent||svg).appendChild(e);return e;}

function lerp(a,b,t){return a+(b-a)*t;}
function hex(h){return [parseInt(h.slice(1,3),16),parseInt(h.slice(3,5),16),parseInt(h.slice(5,7),16)];}
const stopsRd=[[0,"#3a5a9a"],[0.3,"#9fbfdc"],[0.5,"#fff2b0"],[0.7,"#fdae61"],[0.85,"#e8552e"],[1,"#a50026"]];
const stopsNv=[[0,"#a8a8d4"],[0.5,"#7070b0"],[1,"#1f1f6c"]];
function cmap(p,stops){for(let i=1;i<stops.length;i++){if(p<=stops[i][0]){const t=(p-stops[i-1][0])/(stops[i][0]-stops[i-1][0]);const a=hex(stops[i-1][1]),b=hex(stops[i][1]);return `rgb(${Math.round(lerp(a[0],b[0],t))},${Math.round(lerp(a[1],b[1],t))},${Math.round(lerp(a[2],b[2],t))})`;}}return stops[stops.length-1][1];}

const colX=[42,342,642,942], rowY=[8.3,308.3,608.3,908.3,1208.3], W=251, H=248.5;

function drawPanel(ci,kind){
  const row=Math.floor(ci/2), col=(ci%2)*2+kind;
  const x0=colX[col], y0=rowY[row];
  const r=ranges[ci][kind];
  const X=c=>x0+(c-r[0])/(r[1]-r[0])*W;
  const Y=t=>y0+(t-r[2])/(r[3]-r[2])*H;
  const g=el('g',{});
  
  
  const cid='clip'+ci+'_'+kind;
  const cp=el('clipPath',{id:cid},g); el('rect',{x:x0,y:y0,width:W,height:H},cp);
  const grid=el('g',{stroke:'#666','stroke-width':0.9,'stroke-dasharray':'5,4'},g);
   
  for(let v=Math.ceil(r[0]);v<=r[1];v++){if(X(v)>x0+1&&X(v)<x0+W-1) el('line',{x1:X(v),x2:X(v),y1:y0,y2:y0+H},grid);}
  for(let v=Math.ceil(r[2]/2)*2;v<=r[3];v+=2){if(Y(v)>y0+1&&Y(v)<y0+H-1) el('line',{x1:x0,x2:x0+W,y1:Y(v),y2:Y(v)},grid);}
  const tk=el('g',{stroke:'#000','stroke-width':0.8},g);
  for(let v=Math.ceil(r[0]);v<=r[1];v++){el('line',{x1:X(v),x2:X(v),y1:y0+H,y2:y0+H-5},tk);el('line',{x1:X(v),x2:X(v),y1:y0,y2:y0+5},tk);}
  for(let v=Math.ceil(r[2]);v<=r[3];v++){const L=v%2?3:5;el('line',{x1:x0,x2:x0+L,y1:Y(v),y2:Y(v)},tk);el('line',{x1:x0+W,x2:x0+W-L,y1:Y(v),y2:Y(v)},tk);}
  const pts=el('g',{'clip-path':`url(#${cid})`},g);
   
  const stars=starSets[ci].slice();
  if(kind) stars.sort((a,b)=>a[2]-b[2]);
  for(const s of stars){
    let fill,op,stroke;
    if(kind===0){fill='#4a7db0';op=1;stroke='#1c2c40';}
    else if(ci===0){fill=cmap(s[2],stopsNv);op=s[2]>0.5?0.95:0.75;stroke=s[2]>0.5?'#14143a':'none';}
    else{fill=cmap(s[2],stopsRd);op=s[2]<0.45?0.7:0.95;stroke=s[2]<0.45?'#5a7090':'#3a1a10';}
    const c=el('circle',{cx:X(s[0]).toFixed(1),cy:Y(s[1]).toFixed(1),r:3.9,fill:fill,'fill-opacity':op,stroke:stroke,'stroke-width':0.6,'stroke-opacity':0.8},pts);
    
    
  }
  const iso=kind?isoAst[ci]:isoG10[ci];
  const ig=el('g',{'clip-path':`url(#${cid})`,fill:'none',stroke:kind?'#1e8a1e':'#e0161b','stroke-width':1.2},g);
  for(const line of iso){
    const p=el('polyline',{points:line.map(q=>X(q[0]).toFixed(1)+','+Y(q[1]).toFixed(1)).join(' ')},ig);
    
    
  }
  el('rect',{x:x0,y:y0,width:W,height:H,fill:'none',stroke:'#000','stroke-width':1},g);
  for(let v=Math.ceil(r[0]);v<=r[1];v++){const t=el('text',{x:X(v),y:y0+H+14,'font-size':11,'text-anchor':'middle'},g);t.textContent=v<0?'\u2212'+(-v):String(v);
    }
  if(kind===0){
    for(let v=Math.ceil(r[2]/2)*2;v<=r[3];v+=2){const t=el('text',{x:x0-5,y:Y(v)+4,'font-size':11,'text-anchor':'end'},g);t.textContent=String(v);
      }
    const yl=el('text',{x:x0-26,y:y0+H/2+4,'font-size':17,'font-family':'Liberation Serif,serif','font-style':'italic','text-anchor':'middle',transform:`rotate(-90 ${x0-26} ${y0+H/2})`},g);
    yl.innerHTML='T<tspan font-size="11" dy="4">1</tspan>';
    
  }
  const xl=el('text',{x:x0+W/2,y:y0+H+35,'font-size':17,'font-family':'Liberation Serif,serif','font-style':'italic','text-anchor':'middle'},g);
  xl.innerHTML='(C\u2212T<tspan font-size="11" dy="4">1</tspan><tspan dy="-4">)</tspan>';
  
  el('rect',{x:x0+7,y:y0+8,width:11,height:12,fill:'#fff',stroke:'#000','stroke-width':0.8},g);
  const lt=el('text',{x:x0+12.5,y:y0+18,'font-size':10,'text-anchor':'middle'},g);lt.textContent=letters[ci];
  
  // title box sized to text
  const tbox=el('rect',{x:0,y:y0+6,width:10,height:15,fill:'#fff',stroke:'#000','stroke-width':0.8},g);
  const tt=el('text',{x:x0+W-11,y:y0+17.5,'font-size':11,'text-anchor':'end'},g);
  tt.innerHTML=kind?`${names[ci]} <tspan font-size="8" font-style="italic">(ASteCA)</tspan>`:`${names[ci]} (G10)`;
  
  let tw=tt.getComputedTextLength ? tt.getComputedTextLength() : 100;
  if(!tw||tw<20) tw=names[ci].length*7+ (kind?40:32);
  tbox.setAttribute('x',x0+W-11-tw-4); tbox.setAttribute('width',tw+8);
  const lines=kind?[`z = ${astZ[ci]}`,`log(age/yr) = ${astAge[ci]}`,`E<tspan font-size="7" dy="2">(B\u2212V)</tspan><tspan dy="-2"> = ${astE[ci]}</tspan>`,`dm = ${astDm[ci]}`,`M = ${astM[ci]} M<tspan font-size="7" dy="2">\u2299</tspan>`]
                  :[`z = ${g10Z[ci]}`,`log(age/yr) = ${g10Age[ci]}`,`E<tspan font-size="7" dy="2">(B\u2212V)</tspan><tspan dy="-2"> = ${g10E[ci]}</tspan>`,`dm = ${g10Dm[ci]}`];
  const bh=kind?60:49, by=y0+H-7-bh;
  el('rect',{x:x0+7,y:by,width:74,height:bh,fill:'#fff',stroke:'#000','stroke-width':0.8},g);
  lines.forEach((s,i)=>{const t=el('text',{x:x0+10,y:by+10.5+i*11.8,'font-size':9.8,'font-family':'Liberation Serif,serif','font-style':'italic',fill:'#111'},g);t.innerHTML=s;
    });
}
for(let ci=0;ci<10;ci++){drawPanel(ci,0);drawPanel(ci,1);}
</script>
</body></html>
